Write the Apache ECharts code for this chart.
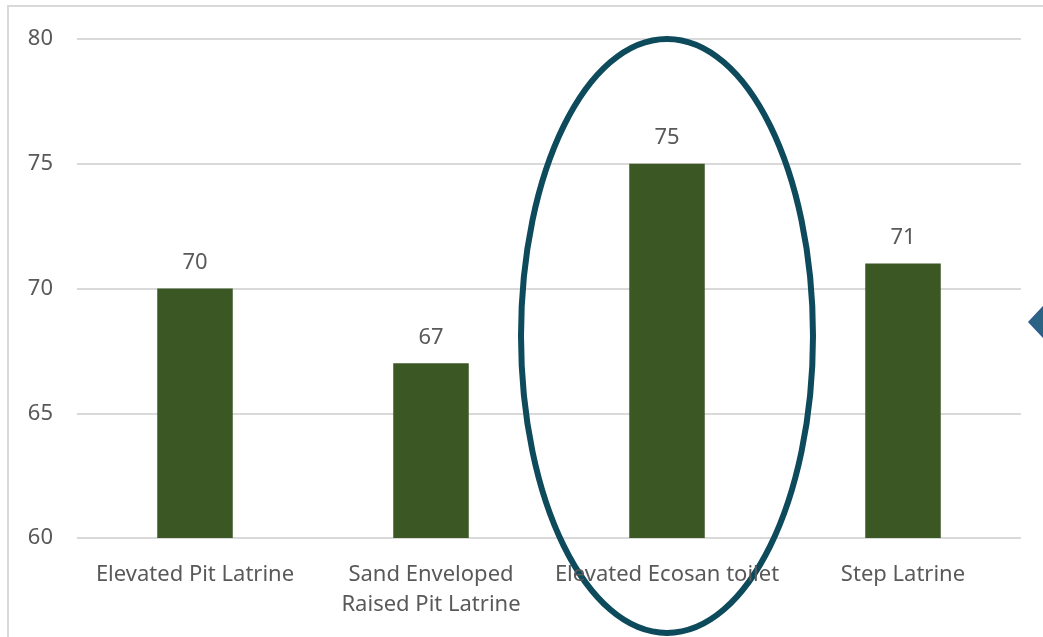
<!DOCTYPE html>
<html>
<head>
<meta charset="utf-8">
<script src="https://cdn.jsdelivr.net/npm/echarts@6/dist/echarts.min.js"></script>
<style>
  html, body { margin: 0; padding: 0; background: #fff; }
  #chart { width: 1043px; height: 637px; }
</style>
</head>
<body>
<div id="chart"></div>
<script>
const categories = [
  'Elevated Pit Latrine',
  'Sand Enveloped\nRaised Pit Latrine',
  'Elevated Ecosan toilet',
  'Step Latrine'
]
const scores = [70, 67, 75, 71]
const yTicks = { min: 60, max: 80, interval: 5 }
const highlightIndex = 2

const textColor = '#595959'
const fontFamily = 'Noto Sans, sans-serif'

const chart = echarts.init(document.getElementById('chart'))

chart.setOption({
  animation: false,
  grid: { left: 77, right: 22, top: 39, bottom: 99 },
  xAxis: {
    type: 'category',
    data: categories,
    axisLine: { show: false },
    axisTick: { show: false },
    axisLabel: {
      color: textColor,
      fontFamily,
      fontSize: 22,
      lineHeight: 30,
      margin: 22,
      interval: 0
    }
  },
  yAxis: {
    type: 'value',
    min: yTicks.min,
    max: yTicks.max,
    interval: yTicks.interval,
    axisLine: { show: false },
    axisTick: { show: false },
    axisLabel: { color: textColor, fontFamily, fontSize: 22, margin: 24 },
    splitLine: { lineStyle: { color: '#d9d9d9', width: 2 } }
  },
  series: [{
    type: 'bar',
    data: scores,
    barWidth: '32%',
    itemStyle: { color: '#3a5724' },
    label: {
      show: true,
      position: 'top',
      distance: 15,
      color: textColor,
      fontFamily,
      fontSize: 22
    }
  }]
})

// 圈出重点柱子的椭圆 + 外框 + 右侧菱形
const center = chart.convertToPixel({ seriesIndex: 0 }, [highlightIndex, 68.1])
chart.setOption({
  graphic: [
    {
      type: 'rect',
      shape: { x: 8, y: 6, width: 1100, height: 700 },
      style: { fill: 'none', stroke: '#d9d9d9', lineWidth: 2 },
      silent: true
    },
    {
      type: 'ellipse',
      shape: { cx: center[0], cy: center[1], rx: 146, ry: 297 },
      style: { fill: 'none', stroke: '#0c4a5c', lineWidth: 6 },
      silent: true
    },
    {
      type: 'polygon',
      shape: { points: [[1043, 307], [1029, 322], [1043, 337], [1057, 322]] },
      style: { fill: '#2a6384', stroke: '#2f5b8f', lineWidth: 1.5 },
      silent: true
    }
  ]
})
</script>
</body>
</html>
